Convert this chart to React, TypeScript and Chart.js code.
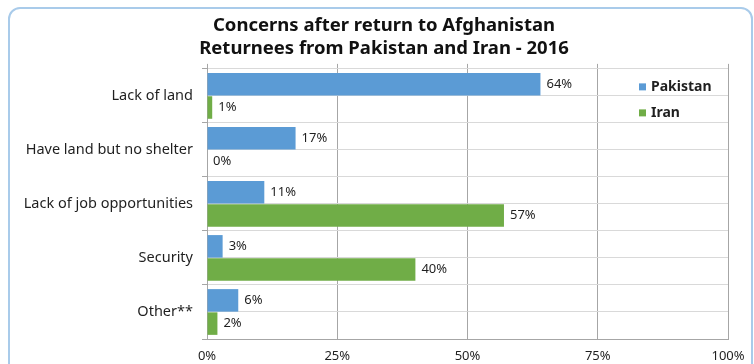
import React, { useEffect, useRef } from 'react';
import { Chart, registerables } from 'chart.js';

Chart.register(...registerables);

const titleLines = ['Concerns after return to Afghanistan', 'Returnees from Pakistan and Iran - 2016'];
const categories = ['Lack of land', 'Have land but no shelter', 'Lack of job opportunities', 'Security', 'Other**'];
const seriesNames = ['Pakistan', 'Iran'];
const pakistan = [64, 17, 11, 3, 6];
const iran = [1, 0, 57, 40, 2];
const xTickValues = [0, 25, 50, 75, 100];
const subRows = ['', '', '', '', '', '', '', '', '', ''];

const FONT = '"Noto Sans", "Open Sans", sans-serif';
const TEXT = '#1f1f1f';
const COLORS = ['#5b9bd5', '#70ad47'];

const titleShift = {
  id: 'titleShift',
  afterLayout(chart: any) {
    const t = chart.titleBlock;
    if (t) {
      t.left = 40;
      t.right = chart.chartArea.right;
      t.width = t.right - t.left;
    }
  },
};

const dataLabels = {
  id: 'dataLabels',
  afterDatasetsDraw(chart: any) {
    const ctx = chart.ctx;
    ctx.save();
    ctx.font = `13px ${FONT}`;
    ctx.fillStyle = TEXT;
    ctx.textBaseline = 'middle';
    ctx.textAlign = 'left';
    chart.data.datasets.forEach((ds: any, i: number) => {
      const meta = chart.getDatasetMeta(i);
      meta.data.forEach((el: any, j: number) => {
        ctx.fillText(`${ds.data[j]}%`, el.x + 6, el.y);
      });
    });
    ctx.restore();
  },
};

const legendBox = {
  id: 'legendBox',
  afterDraw(chart: any) {
    const ctx = chart.ctx;
    const ca = chart.chartArea;
    ctx.save();
    ctx.font = `bold 14px ${FONT}`;
    ctx.textBaseline = 'middle';
    ctx.textAlign = 'left';
    chart.data.datasets.forEach((ds: any, i: number) => {
      const cy = ca.top + 18 + i * 26;
      ctx.fillStyle = ds.backgroundColor;
      ctx.fillRect(ca.right - 89, cy - 3.5, 7, 7);
      ctx.fillStyle = TEXT;
      ctx.fillText(ds.label, ca.right - 77, cy);
    });
    ctx.restore();
  },
};

export default function App() {
  const ref = useRef<HTMLCanvasElement | null>(null);

  useEffect(() => {
    if (!ref.current) return;
    const chart = new Chart(ref.current, {
      type: 'bar',
      data: {
        labels: categories,
        datasets: [
          {
            label: seriesNames[0],
            data: pakistan,
            backgroundColor: COLORS[0],
            categoryPercentage: 0.86,
            barPercentage: 0.97,
          },
          {
            label: seriesNames[1],
            data: iran,
            backgroundColor: COLORS[1],
            categoryPercentage: 0.86,
            barPercentage: 0.97,
          },
        ],
      },
      options: {
        indexAxis: 'y',
        animation: false,
        responsive: false,
        layout: { padding: { left: 0, right: 26, top: 0, bottom: 0 } },
        plugins: {
          legend: { display: false },
          tooltip: { enabled: false },
          title: {
            display: true,
            text: titleLines,
            color: '#111',
            font: { family: FONT, size: 18.5, weight: 'bold', lineHeight: 1.24 },
            padding: { top: 14, bottom: 4 },
          },
        },
        scales: {
          x: {
            type: 'linear',
            position: 'bottom',
            min: 0,
            max: 100,
            afterBuildTicks: (s: any) => {
              s.ticks = xTickValues.map((v) => ({ value: v }));
            },
            ticks: {
              callback: (v: any) => `${v}%`,
              font: { family: FONT, size: 13 },
              color: TEXT,
              padding: 9,
              maxRotation: 0,
            },
            grid: { color: '#a6a6a6', drawTicks: false },
            border: { color: '#a6a6a6' },
            afterFit: (s: any) => {
              s.height = 25;
            },
          },
          xTop: {
            type: 'linear',
            position: 'top',
            min: 0,
            max: 100,
            afterBuildTicks: (s: any) => {
              s.ticks = xTickValues.map((v) => ({ value: v }));
            },
            ticks: { display: false },
            grid: { drawOnChartArea: false, drawTicks: true, tickLength: 5, tickColor: '#a6a6a6' },
            border: { display: false },
          },
          y: {
            type: 'category',
            position: 'left',
            offset: true,
            grid: { offset: true, color: '#d9d9d9', tickColor: '#a6a6a6', tickLength: 5 },
            border: { color: '#a6a6a6' },
            ticks: { font: { family: FONT, size: 14.5 }, color: TEXT, padding: 9 },
            afterFit: (s: any) => {
              s.width = 207;
            },
          },
          ySub: {
            type: 'category',
            labels: subRows,
            position: 'right',
            offset: true,
            grid: { offset: true, color: '#d9d9d9', drawTicks: false },
            ticks: { display: false },
            border: { display: false },
          },
        },
      } as any,
      plugins: [titleShift, dataLabels, legendBox],
    });
    return () => chart.destroy();
  }, []);

  return (
    <div style={{ position: 'fixed', left: 0, top: 0, width: 754, height: 364, background: '#fff', overflow: 'hidden' }}>
      <canvas ref={ref} width={754} height={364} style={{ position: 'absolute', left: 0, top: 0, width: 754, height: 364 }} />
      <div
        style={{
          position: 'absolute',
          left: 8,
          top: 7,
          width: 745,
          height: 400,
          border: '2px solid #a9cbea',
          borderRadius: 12,
          boxSizing: 'border-box',
          pointerEvents: 'none',
        }}
      />
    </div>
  );
}
